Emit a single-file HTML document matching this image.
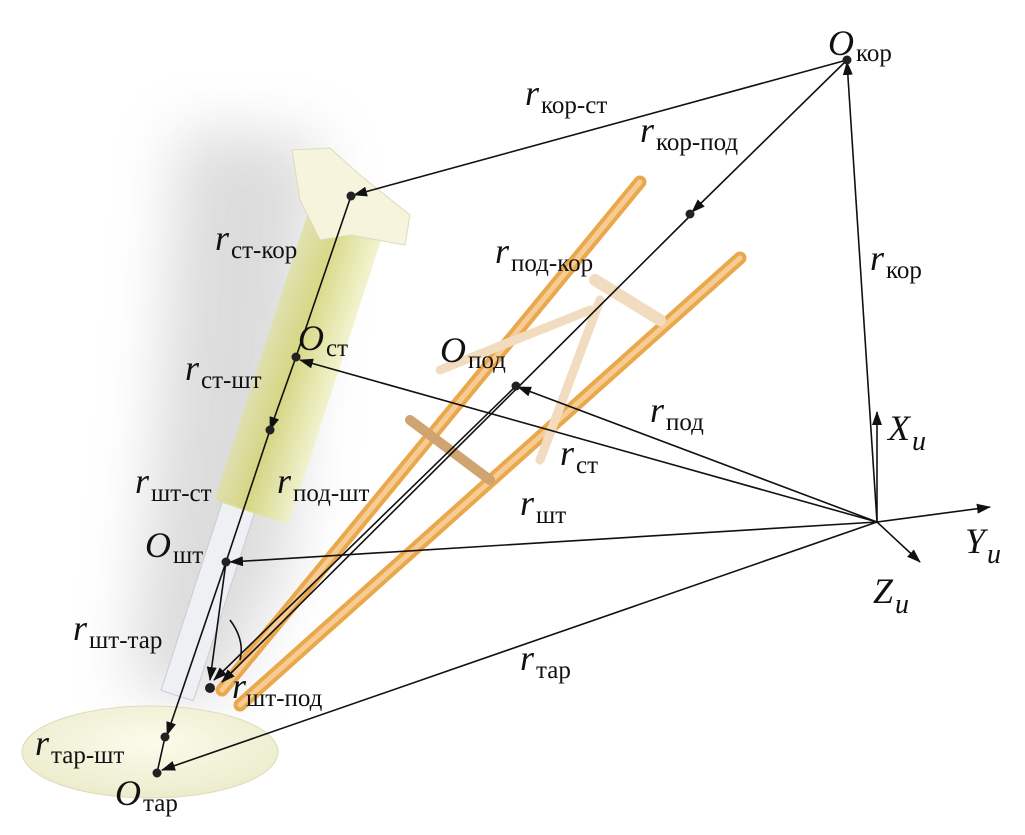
<!DOCTYPE html>
<html><head><meta charset="utf-8"><style>
html,body{margin:0;padding:0;background:#fff}
svg{display:block}
text{font-family:"Liberation Serif",serif}
.r{font-style:italic;font-size:36px}
.s{font-size:25px;font-style:normal}
.i{font-style:italic;font-size:28px}
</style></head><body>
<svg width="1025" height="835" viewBox="0 0 1025 835" xmlns="http://www.w3.org/2000/svg">
<defs>
<filter id="bl" x="-50%" y="-50%" width="200%" height="200%"><feGaussianBlur stdDeviation="30"/></filter>
<linearGradient id="cyl" x1="0" y1="0" x2="1" y2="0">
<stop offset="0" stop-color="#e0e0a8"/><stop offset="0.4" stop-color="#d4d474"/><stop offset="1" stop-color="#f0f2c8"/></linearGradient>
<radialGradient id="dish" cx="0.5" cy="0.4" r="0.6"><stop offset="0" stop-color="#fbfbec"/><stop offset="1" stop-color="#ececcc"/></radialGradient>
<marker id="a" markerWidth="14" markerHeight="10" refX="13" refY="5" orient="auto" markerUnits="userSpaceOnUse"><path d="M0,0 L14,5 L0,10 Z" fill="#111"/></marker>
</defs>
<path d="M180,130 L320,140 L290,560 L220,700 L130,690 L160,400 Z" fill="#a8a8a8" opacity="0.4" filter="url(#bl)"/>
<ellipse cx="150" cy="752" rx="128" ry="46" fill="url(#dish)" stroke="#dcdcbc"/>
<g transform="rotate(18 205 610)"><rect x="188" y="500" width="34" height="200" fill="#eef0f4" stroke="#c8ccd4"/></g>
<g transform="rotate(18 300 360)"><rect x="262" y="210" width="78" height="310" rx="6" fill="url(#cyl)" opacity="0.85"/></g>
<path d="M292,150 L330,148 L360,175 L410,215 L405,245 L350,235 L320,240 L300,200 Z" fill="#f6f4dc" stroke="#dedcb8"/>
<g stroke-linecap="round">
<line x1="640" y1="182" x2="222" y2="690" stroke="#eaa84c" stroke-width="13"/>
<line x1="640" y1="182" x2="222" y2="690" stroke="#f6cc94" stroke-width="5"/>
<line x1="740" y1="258" x2="240" y2="705" stroke="#eaa84c" stroke-width="13"/>
<line x1="740" y1="258" x2="240" y2="705" stroke="#f6cc94" stroke-width="5"/>
<line x1="595" y1="280" x2="660" y2="320" stroke="#f2dcc0" stroke-width="12"/>
<line x1="600" y1="300" x2="540" y2="460" stroke="#f2dcc0" stroke-width="9"/>
<line x1="410" y1="420" x2="490" y2="480" stroke="#d0a470" stroke-width="10"/>
<line x1="440" y1="370" x2="590" y2="310" stroke="#f2dcc0" stroke-width="9"/>
</g>
<g stroke="#111" stroke-width="1.6" fill="none">
<line x1="847" y1="60" x2="354" y2="195" marker-end="url(#a)"/>
<line x1="847" y1="60" x2="692" y2="212" marker-end="url(#a)"/>
<line x1="692" y1="214" x2="222" y2="682" marker-end="url(#a)"/>
<line x1="877" y1="522" x2="847" y2="62" marker-end="url(#a)"/>
<line x1="877" y1="522" x2="300" y2="360" marker-end="url(#a)"/>
<line x1="877" y1="522" x2="518" y2="387" marker-end="url(#a)"/>
<line x1="877" y1="522" x2="230" y2="562" marker-end="url(#a)"/>
<line x1="877" y1="522" x2="162" y2="770" marker-end="url(#a)"/>
<line x1="877" y1="522" x2="877" y2="412" marker-end="url(#a)"/>
<line x1="877" y1="522" x2="990" y2="507" marker-end="url(#a)"/>
<line x1="877" y1="522" x2="920" y2="562" marker-end="url(#a)"/>
<line x1="351" y1="196" x2="296" y2="357"/>
<line x1="296" y1="357" x2="270" y2="430" marker-end="url(#a)"/>
<line x1="270" y1="430" x2="226" y2="562"/>
<line x1="226" y1="562" x2="167" y2="735" marker-end="url(#a)"/>
<line x1="165" y1="737" x2="157" y2="773"/>
<line x1="516" y1="386" x2="214" y2="680" marker-end="url(#a)"/>
<line x1="226" y1="562" x2="210" y2="680" marker-end="url(#a)"/>
<path d="M230,620 Q245,640 240,660"/>
</g>
<g fill="#222">
<circle cx="847" cy="60" r="4.5"/><circle cx="690" cy="214" r="4.5"/><circle cx="351" cy="196" r="4.5"/>
<circle cx="296" cy="357" r="4.5"/><circle cx="516" cy="386" r="4.5"/><circle cx="270" cy="430" r="4.5"/>
<circle cx="226" cy="562" r="4.5"/><circle cx="165" cy="737" r="4.5"/><circle cx="157" cy="773" r="4.5"/>
<circle cx="210" cy="688" r="5"/>
</g>
<g fill="#111">
<text x="828" y="55" class="r">O<tspan class="s" dx="2" dy="6">кор</tspan></text>
<text x="525" y="105" class="r">r<tspan class="s" dx="2" dy="8">кор-ст</tspan></text>
<text x="640" y="142" class="r">r<tspan class="s" dx="2" dy="8">кор-под</tspan></text>
<text x="870" y="270" class="r">r<tspan class="s" dx="2" dy="8">кор</tspan></text>
<text x="215" y="250" class="r">r<tspan class="s" dx="2" dy="8">ст-кор</tspan></text>
<text x="495" y="263" class="r">r<tspan class="s" dx="2" dy="8">под-кор</tspan></text>
<text x="298" y="350" class="r">O<tspan class="s" dx="2" dy="6">ст</tspan></text>
<text x="440" y="362" class="r">O<tspan class="s" dx="2" dy="6">под</tspan></text>
<text x="185" y="380" class="r">r<tspan class="s" dx="2" dy="8">ст-шт</tspan></text>
<text x="650" y="422" class="r">r<tspan class="s" dx="2" dy="8">под</tspan></text>
<text x="888" y="440" class="r">X<tspan class="i" dx="2" dy="10">u</tspan></text>
<text x="560" y="465" class="r">r<tspan class="s" dx="2" dy="8">ст</tspan></text>
<text x="135" y="493" class="r">r<tspan class="s" dx="2" dy="8">шт-ст</tspan></text>
<text x="277" y="493" class="r">r<tspan class="s" dx="2" dy="8">под-шт</tspan></text>
<text x="520" y="515" class="r">r<tspan class="s" dx="2" dy="8">шт</tspan></text>
<text x="965" y="553" class="r">Y<tspan class="i" dx="2" dy="10">u</tspan></text>
<text x="145" y="557" class="r">O<tspan class="s" dx="2" dy="6">шт</tspan></text>
<text x="873" y="603" class="r">Z<tspan class="i" dx="2" dy="10">u</tspan></text>
<text x="73" y="640" class="r">r<tspan class="s" dx="2" dy="8">шт-тар</tspan></text>
<text x="520" y="670" class="r">r<tspan class="s" dx="2" dy="8">тар</tspan></text>
<text x="232" y="698" class="r">r<tspan class="s" dx="0" dy="8">шт-под</tspan></text>
<text x="35" y="755" class="r">r<tspan class="s" dx="2" dy="8">тар-шт</tspan></text>
<text x="115" y="805" class="r">O<tspan class="s" dx="2" dy="6">тар</tspan></text>
</g>
</svg>
</body></html>
